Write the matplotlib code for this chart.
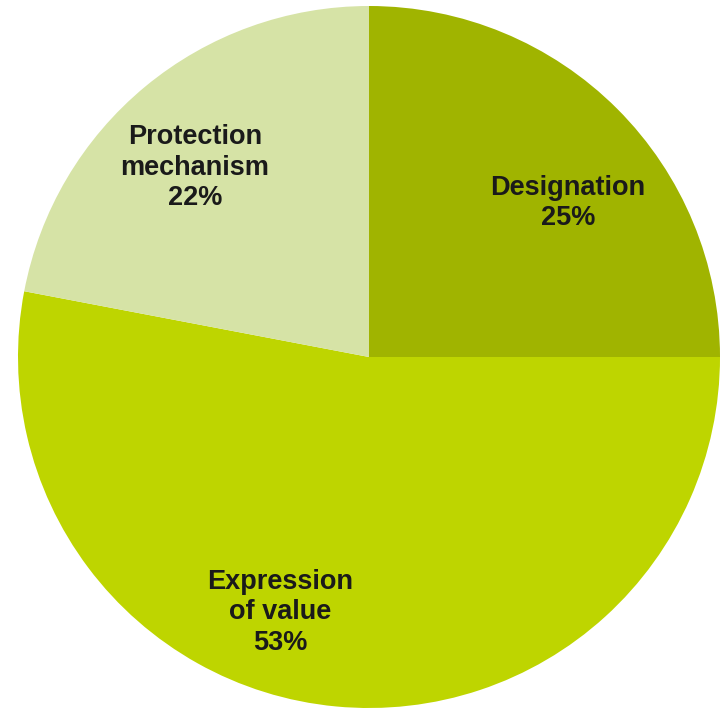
import matplotlib.pyplot as plt

labels = ['Designation', 'Expression\nof value', 'Protection\nmechanism']
shares = [25, 53, 22]
colors = ['#A0B400', '#BED500', '#D6E3A6']
# label positions in pie units (radius 1)
label_xy = [(0.567, 0.438), (-0.254, -0.727), (-0.496, 0.539)]

fig = plt.figure(figsize=(7.21, 7.08), dpi=100)
ax = fig.add_axes([18 / 721, 0.0, 702 / 721, 702 / 708])
ax.pie(shares, colors=colors, startangle=90, counterclock=False,
       radius=1, wedgeprops=dict(linewidth=0))
for lab, val, (x, y) in zip(labels, shares, label_xy):
    ax.text(x, y, '%s\n%d%%' % (lab, val), ha='center', va='center',
            fontsize=19.5, fontweight='bold', family='Liberation Sans',
            linespacing=1.22, color='#1a1a1a')
ax.set_xlim(-1, 1)
ax.set_ylim(-1, 1)
ax.set_aspect('equal')
ax.axis('off')
fig.savefig('out.png', dpi=100)
